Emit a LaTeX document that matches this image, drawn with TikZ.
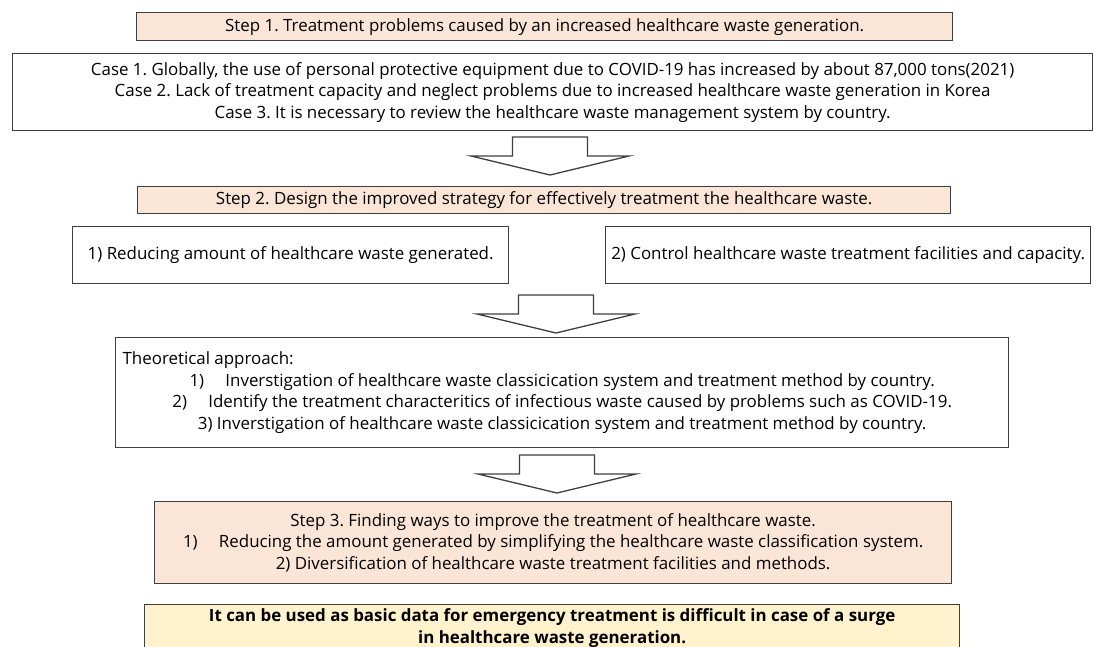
\documentclass[tikz,border=0pt]{standalone}
\usepackage{fontspec}
\setmainfont{Open Sans}
\definecolor{edge}{HTML}{3F3F3F}
\definecolor{pinkfill}{HTML}{FBE5D6}
\definecolor{yelfill}{HTML}{FFF2CC}
\frenchspacing
\begin{document}
\begin{tikzpicture}[x=1pt,y=-1pt,
  box/.style={draw=edge, line width=1.3pt, fill=white, inner sep=0pt, anchor=north west,
    align=center, font=\fontsize{16.9}{21.5}\selectfont},
  pinkbox/.style={box, fill=pinkfill},
  yelbox/.style={box, fill=yelfill, font=\fontsize{16.9}{21.5}\selectfont\bfseries},
  arrowline/.style={draw=edge, line width=1.3pt, fill=white, line join=miter},
  blockarrow/.pic={\path[arrowline] (-37.5,0) -- (-37.5,19) -- (-79,19) -- (0,38) -- (79,19) -- (37.5,19) -- (37.5,0) -- cycle;}
]
\useasboundingbox (0,0) rectangle (1104,646);

\node[pinkbox, minimum width=816pt, minimum height=28pt] (s1) at (136,12)
  {Step 1. Treatment problems caused by an increased healthcare waste generation.};

\node[box, minimum width=1080pt, minimum height=77pt] (case) at (12,53)
  {Case 1. Globally, the use of personal protective equipment due to COVID-19 has increased by about 87,000 tons(2021)\\
   Case 2. Lack of treatment capacity and neglect problems due to increased healthcare waste generation in Korea\\
   Case 3. It is necessary to review the healthcare waste management system by country.};

\pic at (550,137) {blockarrow};

\node[pinkbox, minimum width=813pt, minimum height=27pt] (s2) at (137,186)
  {Step 2. Design the improved strategy for effectively treatment the healthcare waste.};

\node[box, minimum width=436pt, minimum height=57pt] (b1) at (72,226)
  {1) Reducing amount of healthcare waste generated.};
\node[box, minimum width=485pt, minimum height=57pt] (b2) at (605,226)
  {2) Control healthcare waste treatment facilities and capacity.};

\pic at (556,295) {blockarrow};

\node[box, minimum width=893pt, minimum height=110pt] (theo) at (115,337)
  {\parbox{879pt}{\raggedright Theoretical approach:\par
   \centering 1)\quad\ Inverstigation of healthcare waste classicication system and treatment method by country.\\
   2)\quad\ Identify the treatment characteritics of infectious waste caused by problems such as COVID-19.\\
   3) Inverstigation of healthcare waste classicication system and treatment method by country.\par}};

\pic at (557,455) {blockarrow};

\node[pinkbox, minimum width=797pt, minimum height=82pt] (s3) at (154,501)
  {Step 3. Finding ways to improve the treatment of healthcare waste.\\
   1)\quad\ Reducing the amount generated by simplifying the healthcare waste classification system.\\
   2) Diversification of healthcare waste treatment facilities and methods.};

\node[yelbox, minimum width=815pt, minimum height=47pt] (res) at (144,604)
  {It can be used as basic data for emergency treatment is difficult in case of a surge\\
   in healthcare waste generation.};
\end{tikzpicture}
\end{document}
